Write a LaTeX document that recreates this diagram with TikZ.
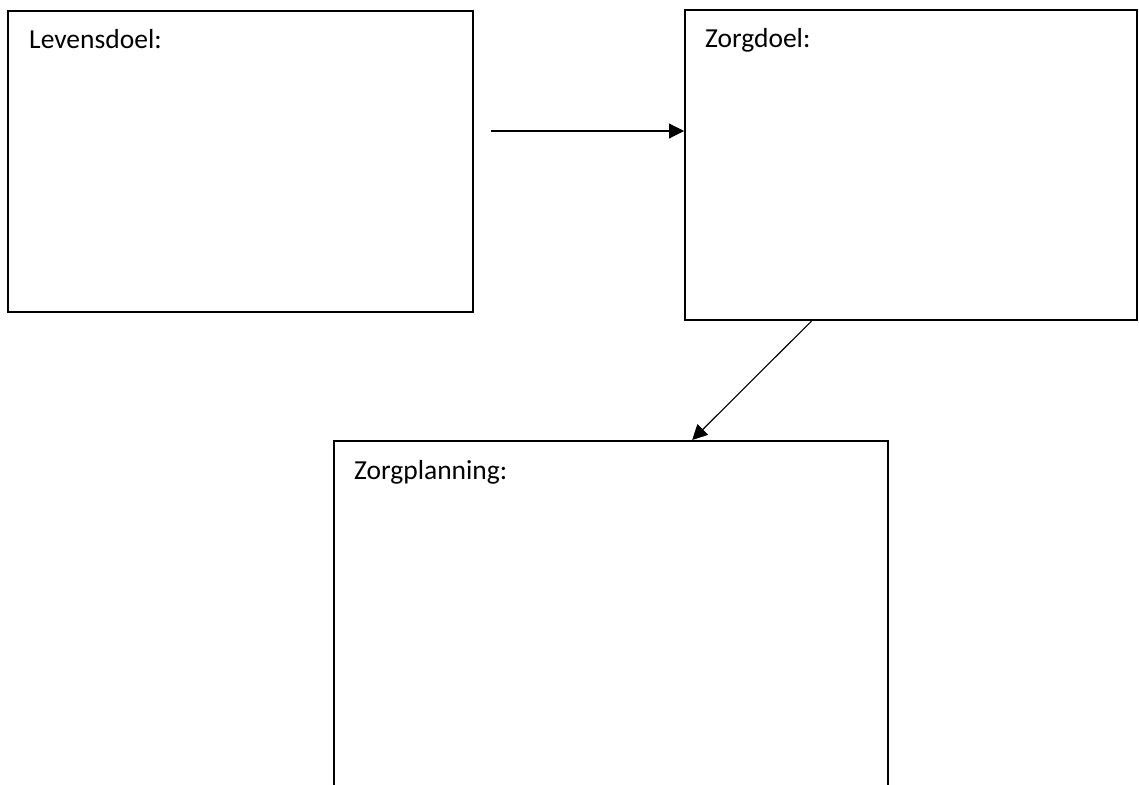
\documentclass[tikz,border=0pt]{standalone}
\usepackage{fontspec}
\setmainfont{Carlito}
\usetikzlibrary{arrows.meta,calc}
\tikzset{
  box/.style={draw=black, line width=2pt, rectangle, inner sep=0pt, fill=white},
  lbl/.style={anchor=north west, inner sep=0pt, font=\fontsize{27.5}{33}\selectfont},
  conn/.style={draw=black, line width=1.1pt, -{Triangle[length=15pt,width=15pt]}}
}
\begin{document}
\begin{tikzpicture}[x=1pt,y=-1pt]
\useasboundingbox (0,0) rectangle (1139,784);
\clip (0,0) rectangle (1139,784);
\node[box, minimum width=465pt, minimum height=301pt] (A) at (240.5,161.5) {};
\node[box, minimum width=452pt, minimum height=310pt] (B) at (911,165) {};
\node[box, minimum width=554pt, minimum height=370pt] (C) at (611,626) {};
\node[lbl] (tA) at ($(A.north west)+(22,19)$) {Levensdoel:};
\node[lbl] (tB) at ($(B.north west)+(21,19)$) {Zorgdoel:};
\node[lbl] (tC) at ($(C.north west)+(21,20)$) {Zorgplanning:};
\coordinate (s1) at (491,131);
\draw[conn] (s1) -- (B.west |- s1);
\draw[conn] ($(B.south west)!0.281!(B.south east)$) -- ($(C.north west)!0.646!(C.north east)$);
\end{tikzpicture}
\end{document}
